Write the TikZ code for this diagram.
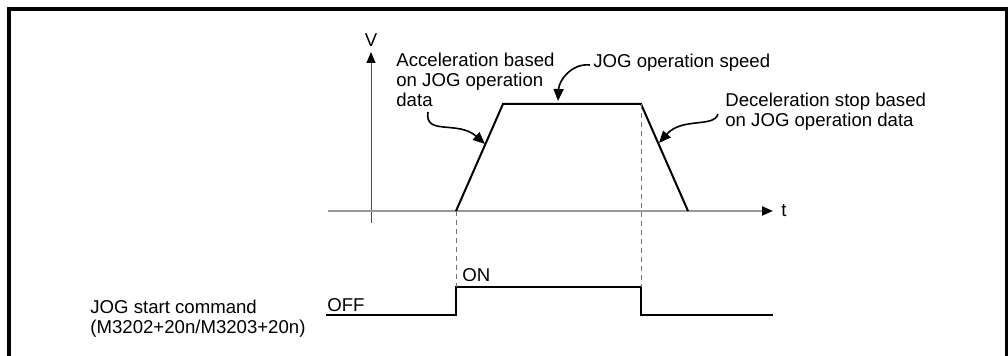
\documentclass[tikz,border=0pt]{standalone}
\usepackage{fontspec}
\setmainfont{Liberation Sans}
\usetikzlibrary{arrows.meta,positioning}

\begin{document}
\begin{tikzpicture}[
    x=0.5pt, y=-0.5pt,
    font=\fontsize{9.3pt}{10pt}\selectfont,
    frame/.style={line width=2pt},
    axis/.style={draw=black!40, line width=1pt},
    vaxis/.style={draw=black!70, line width=0.5pt},
    profile/.style={line width=1pt},
    guide/.style={draw=black!55, line width=0.5pt, dash pattern=on 2.5pt off 2pt},
    tip/.style={-{Triangle[length=5.5pt, width=4.5pt, color=black]}},
    pointer/.style={-{Triangle[length=6pt, width=5pt]}, line width=0.8pt},
    txt/.style={inner sep=0pt, align=left, anchor=base west}
]

\useasboundingbox (0,0) rectangle (1008,356);
\draw[frame] (9,356) -- (9,9) -- (1007,9) -- (1007,356);

% axes
\coordinate (vbot) at (371,223);
\coordinate (vtop) at (371,52);
\coordinate (tleft) at (328,211);
\coordinate (tright) at (773,211);
\draw[vaxis, tip] (vbot) -- (vtop);
\draw[axis, tip] (tleft) -- (tright);
\node[inner sep=0pt, anchor=base] (vlabel) at (371,47) {V};
\node[txt] (tlabel) at (781,217) {t};

% speed profile
\coordinate (p0) at (456,211);
\coordinate (p1) at (503,104);
\coordinate (p2) at (641,104);
\coordinate (p3) at (688,211);
\draw[profile] (p0) -- (p1) -- (p2) -- (p3);

% start signal
\coordinate (s0) at (326,315);
\coordinate (s1) at (456,315);
\coordinate (on1) at (456,287);
\coordinate (on2) at (641,287);
\coordinate (s2) at (641,315);
\coordinate (s3) at (773,315);
\draw[profile] (s0) -- (s1) -- (on1) -- (on2) -- (s2) -- (s3);
\draw[guide] (p0) -- (on1);
\draw[guide] (p2) -- (on2);

% labels (base = last line)
\node[txt] (accel) at (396,107) {Acceleration based\\on JOG operation\\data};
\node[txt] (speed) at (593,68) {JOG operation speed};
\node[txt] (decel) at (725,127) {Deceleration stop based\\on JOG operation data};
\node[txt] (onlabel) at (462,282) {ON};
\node[txt] (offlabel) at (327,312) {OFF};
\node[txt] (command) at (90,334) {JOG start command\\(M3202+20n/M3203+20n)};

% pointers
\coordinate (accelfrom) at (428,112);
\coordinate (acceltip) at (485,144);
\coordinate (speedfrom) at (590,65);
\coordinate (speedtip) at (558,101);
\coordinate (decelfrom) at (718,114);
\coordinate (deceltip) at (659,143);
\draw[pointer] (accelfrom) .. controls (424,136) and (458,120) .. (acceltip);
\draw[pointer] (speedfrom) .. controls (572,63) and (559,80) .. (speedtip);
\draw[pointer] (decelfrom) .. controls (714,128) and (682,117) .. (deceltip);

\end{tikzpicture}
\end{document}
